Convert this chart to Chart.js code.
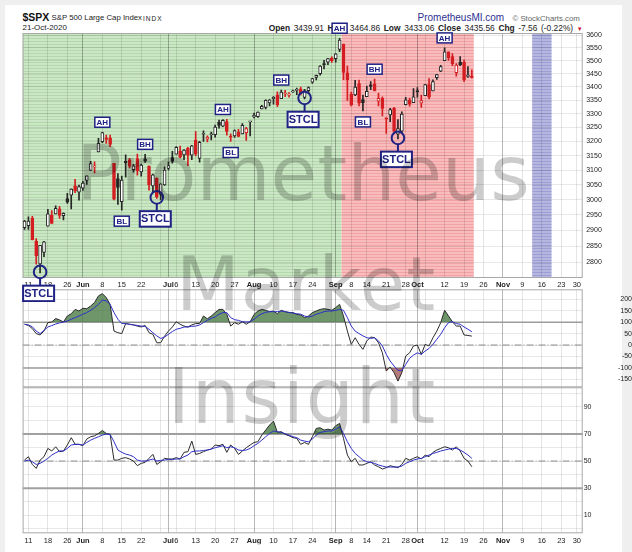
<!DOCTYPE html>
<html>
<head>
<meta charset="utf-8">
<script src="https://cdn.jsdelivr.net/npm/chart.js@4/dist/chart.umd.min.js"></script>
<style>
  html, body { margin: 0; padding: 0; }
  body { width: 632px; height: 552px; background: #efefef; position: relative; overflow: hidden;
         font-family: "Liberation Sans", Arial, Helvetica, sans-serif; }
  #card { position: absolute; left: 5px; top: 5px; width: 617px; height: 547px; background: #fff; }
  canvas { position: absolute; left: 0; }
  #price { top: 20px; z-index: 3; }
  #cci { top: 287px; z-index: 2; }
  #rsi { top: 386px; z-index: 1; }
  .t { position: absolute; white-space: nowrap; line-height: 1; z-index: 2; }
  .wm { position: absolute; white-space: nowrap; line-height: 1; color: rgba(0,0,0,0.2);
        font-family: "DejaVu Sans", Verdana, sans-serif; z-index: 10; pointer-events: none; }
</style>
</head>
<body>
<div id="card"></div>

<div class="t" style="left:22.5px;top:12.1px;font-size:10.5px;font-weight:bold;color:#111">$SPX</div>
<div class="t" style="left:51.5px;top:14.4px;font-size:7.8px;color:#222">S&amp;P 500 Large Cap Index</div>
<div class="t" style="left:143px;top:15.5px;font-size:6.5px;letter-spacing:1px;color:#222">INDX</div>
<div class="t" style="left:22.5px;top:24.2px;font-size:8px;color:#222">21-Oct-2020</div>
<div class="t" style="right:49.3px;top:23.9px;font-size:8.4px;word-spacing:1.3px;color:#222"><b>Open</b> 3439.91 <b>High</b> 3464.86 <b>Low</b> 3433.06 <b>Close</b> 3435.56 <b>Chg</b> -7.56 (-0.22%) <span style="color:#c8102e;font-size:6px">&#9660;</span></div>
<div class="t" style="left:417.5px;top:13.2px;font-size:10px;color:#2e3192">PrometheusMI.com</div>
<div class="t" style="left:512.5px;top:14.9px;font-size:7.8px;color:#666">&copy; StockCharts.com</div>

<canvas id="price" width="632" height="282"></canvas>
<canvas id="cci" width="632" height="102"></canvas>
<canvas id="rsi" width="632" height="166"></canvas>

<div class="wm" style="left:76px;top:135.7px;font-size:76px">Prometheus</div>
<div class="wm" style="left:176px;top:247.4px;font-size:74px;letter-spacing:1px">Market</div>
<div class="wm" style="left:167.6px;top:358.7px;font-size:76px;letter-spacing:1.7px">Insight</div>

<script>
// trading days shown on the axis (May 8 .. Dec 1, 2020)
const days = [
  "May 8","May 11","May 12","May 13","May 14","May 15","May 18","May 19","May 20","May 21","May 22","May 26","May 27","May 28","May 29",
  "Jun 1","Jun 2","Jun 3","Jun 4","Jun 5","Jun 8","Jun 9","Jun 10","Jun 11","Jun 12","Jun 15","Jun 16","Jun 17","Jun 18","Jun 19",
  "Jun 22","Jun 23","Jun 24","Jun 25","Jun 26","Jun 29","Jun 30",
  "Jul 1","Jul 2","Jul 6","Jul 7","Jul 8","Jul 9","Jul 10","Jul 13","Jul 14","Jul 15","Jul 16","Jul 17","Jul 20","Jul 21","Jul 22",
  "Jul 23","Jul 24","Jul 27","Jul 28","Jul 29","Jul 30","Jul 31",
  "Aug 3","Aug 4","Aug 5","Aug 6","Aug 7","Aug 10","Aug 11","Aug 12","Aug 13","Aug 14","Aug 17","Aug 18","Aug 19","Aug 20","Aug 21",
  "Aug 24","Aug 25","Aug 26","Aug 27","Aug 28","Aug 31",
  "Sep 1","Sep 2","Sep 3","Sep 4","Sep 8","Sep 9","Sep 10","Sep 11","Sep 14","Sep 15","Sep 16","Sep 17","Sep 18","Sep 21","Sep 22",
  "Sep 23","Sep 24","Sep 25","Sep 28","Sep 29","Sep 30",
  "Oct 1","Oct 2","Oct 5","Oct 6","Oct 7","Oct 8","Oct 9","Oct 12","Oct 13","Oct 14","Oct 15","Oct 16","Oct 19","Oct 20","Oct 21",
  "Oct 22","Oct 23","Oct 26","Oct 27","Oct 28","Oct 29","Oct 30",
  "Nov 2","Nov 3","Nov 4","Nov 5","Nov 6","Nov 9","Nov 10","Nov 11","Nov 12","Nov 13","Nov 16","Nov 17","Nov 18","Nov 19","Nov 20",
  "Nov 23","Nov 24","Nov 25","Nov 27","Nov 30","Dec 1"
]

const open = [
  2908.8, 2915.5, 2939.5, 2865.9, 2794.5, 2830.0, 2913.9, 2948.6, 2953.6, 2970.0,
  2948.1, 3004.1, 3015.7, 3046.6, 3025.2, 3038.8, 3064.8, 3098.9, 3111.6, 3163.8,
  3199.9, 3213.3, 3213.4, 3123.5, 3071.0, 2993.8, 3131.0, 3136.1, 3101.6, 3140.3,
  3094.4, 3138.7, 3114.4, 3046.6, 3073.2, 3018.6, 3050.2, 3105.9, 3143.6, 3155.3,
  3166.4, 3153.1, 3176.2, 3152.5, 3205.1, 3141.1, 3226.0, 3208.4, 3224.2, 3224.3,
  3268.5, 3254.9, 3271.6, 3218.6, 3219.8, 3234.3, 3227.2, 3231.8, 3270.5, 3288.3,
  3289.9, 3317.4, 3323.2, 3340.1, 3356.0, 3370.3, 3355.5, 3373.0, 3368.7, 3380.9,
  3387.0, 3392.5, 3360.5, 3386.0, 3418.1, 3436.0, 3450.0, 3485.1, 3494.7, 3509.7,
  3507.4, 3543.8, 3564.7, 3453.6, 3371.9, 3369.8, 3412.6, 3352.7, 3363.6, 3407.7,
  3411.2, 3346.9, 3357.4, 3285.6, 3295.8, 3320.1, 3226.1, 3236.7, 3333.9, 3350.9,
  3341.2, 3385.9, 3338.9, 3367.3, 3408.7, 3384.6, 3434.3, 3459.7, 3500.0, 3534.0,
  3515.5, 3453.7, 3493.5, 3493.7, 3439.4, 3439.9
]
const high = [
  2932.2, 2944.3, 2945.8, 2874.1, 2852.8, 2865.0, 2968.1, 2964.2, 2980.3, 2978.5,
  2956.8, 3021.7, 3036.3, 3068.7, 3049.2, 3062.2, 3081.1, 3130.9, 3128.9, 3211.7,
  3233.1, 3222.7, 3223.3, 3123.5, 3088.4, 3079.8, 3153.5, 3141.2, 3120.0, 3155.5,
  3120.9, 3154.9, 3115.0, 3086.3, 3073.7, 3053.9, 3111.5, 3128.4, 3165.8, 3182.6,
  3184.2, 3171.8, 3179.8, 3186.8, 3235.3, 3201.0, 3238.3, 3220.4, 3233.5, 3258.6,
  3277.3, 3279.3, 3280.0, 3227.3, 3241.4, 3243.7, 3264.7, 3250.9, 3272.2, 3302.7,
  3306.8, 3330.8, 3351.0, 3352.5, 3363.3, 3381.0, 3387.9, 3387.2, 3378.5, 3387.6,
  3395.1, 3399.5, 3390.8, 3400.0, 3432.1, 3444.2, 3481.1, 3501.4, 3509.2, 3514.8,
  3528.0, 3588.1, 3564.9, 3479.2, 3380.0, 3424.8, 3425.6, 3369.0, 3402.9, 3419.5,
  3428.9, 3375.2, 3362.3, 3285.6, 3320.3, 3323.4, 3278.7, 3306.9, 3360.7, 3357.9,
  3393.6, 3397.2, 3369.1, 3409.6, 3431.6, 3426.3, 3447.3, 3482.3, 3549.9, 3534.0,
  3527.9, 3489.1, 3515.8, 3502.4, 3476.9, 3464.9
]
const low = [
  2902.9, 2903.4, 2869.6, 2793.2, 2766.6, 2816.8, 2913.9, 2922.4, 2953.6, 2938.6,
  2933.6, 2988.2, 2969.8, 3023.4, 2998.6, 3031.5, 3051.6, 3098.9, 3090.4, 3163.8,
  3196.0, 3193.1, 3181.5, 2999.5, 2984.5, 2965.7, 3076.1, 3108.0, 3093.5, 3083.1,
  3079.4, 3127.1, 3032.1, 3024.0, 3004.6, 2999.7, 3047.8, 3101.2, 3124.5, 3155.3,
  3142.9, 3136.5, 3115.7, 3136.2, 3149.4, 3127.7, 3200.8, 3198.6, 3205.7, 3215.2,
  3247.8, 3253.1, 3222.7, 3200.1, 3214.3, 3216.2, 3227.2, 3204.1, 3220.3, 3284.5,
  3286.4, 3317.4, 3318.1, 3328.7, 3335.4, 3326.4, 3355.5, 3363.4, 3361.6, 3379.2,
  3370.2, 3369.7, 3354.7, 3379.3, 3413.1, 3425.8, 3444.2, 3468.4, 3484.3, 3493.3,
  3494.6, 3535.2, 3427.4, 3349.6, 3329.3, 3366.8, 3329.3, 3310.5, 3363.6, 3389.3,
  3384.5, 3328.8, 3292.4, 3229.1, 3271.0, 3232.6, 3209.5, 3228.4, 3332.9, 3327.5,
  3340.5, 3361.4, 3323.7, 3367.3, 3354.5, 3384.6, 3428.2, 3458.1, 3499.6, 3500.9,
  3480.6, 3440.9, 3480.5, 3419.9, 3435.7, 3433.1
]
const close = [
  2929.8, 2930.3, 2870.1, 2820.0, 2852.5, 2863.7, 2953.9, 2922.9, 2971.6, 2948.5,
  2955.5, 2991.8, 3036.1, 3029.7, 3044.3, 3055.7, 3080.8, 3122.9, 3112.4, 3193.9,
  3232.4, 3207.2, 3190.1, 3002.1, 3041.3, 3066.6, 3124.7, 3113.5, 3115.3, 3097.7,
  3117.9, 3131.3, 3050.3, 3083.8, 3009.1, 3053.2, 3100.3, 3115.9, 3130.0, 3179.7,
  3145.3, 3169.9, 3152.1, 3185.0, 3155.2, 3197.5, 3226.6, 3215.6, 3224.7, 3251.8,
  3257.3, 3276.0, 3235.7, 3215.6, 3239.4, 3218.4, 3258.4, 3246.2, 3271.1, 3294.6,
  3306.5, 3327.8, 3349.2, 3351.3, 3360.5, 3333.7, 3380.4, 3373.4, 3372.9, 3382.0,
  3389.8, 3374.9, 3385.5, 3397.2, 3431.3, 3443.6, 3478.7, 3484.6, 3508.0, 3500.3,
  3526.7, 3580.8, 3455.1, 3427.0, 3331.8, 3399.0, 3339.2, 3341.0, 3383.5, 3401.2,
  3385.5, 3357.0, 3319.5, 3281.1, 3315.6, 3236.9, 3246.6, 3298.5, 3351.6, 3335.5,
  3363.0, 3380.8, 3348.4, 3408.6, 3361.0, 3419.4, 3446.8, 3477.1, 3534.2, 3511.9,
  3488.7, 3483.3, 3483.8, 3426.9, 3443.1, 3435.6
]

// CCI and its signal line
const cci = [
  91, 86, 72, 50, 44, 61, 98, 101, 116, 110,
  101, 127, 137, 156, 149, 161, 159, 171, 186, 215,
  225, 208, 178, 61, 54, 50, 94, 91, 88, 83,
  79, 86, 54, 47, 10, 10, 39, 61, 79, 102,
  91, 83, 79, 88, 94, 94, 127, 115, 127, 142,
  156, 156, 134, 83, 98, 91, 102, 91, 102, 134,
  149, 156, 152, 146, 149, 137, 152, 146, 142, 142,
  134, 132, 120, 127, 142, 149, 156, 159, 156, 152,
  164, 178, 127, 61, 3, 32, 3, -19, 18, 35,
  32, 10, -34, -114, -96, -121, -158, -121, -48, -34,
  -4, 0, -41, 3, -4, 32, 61, 98, 152, 127,
  102, 83, 83, 44, 42, 39
]
const cciSignal = [
  91, 88, 80, 61, 50, 64, 79, 85, 92, 97,
  101, 105, 113, 120, 127, 135, 142, 152, 164, 178,
  197, 193, 178, 142, 113, 94, 94, 91, 88, 86,
  83, 82, 69, 54, 40, 29, 35, 47, 59, 69,
  73, 79, 79, 82, 83, 88, 98, 108, 117, 123,
  135, 142, 142, 120, 111, 108, 102, 101, 102, 113,
  127, 137, 143, 146, 146, 146, 149, 146, 143, 140,
  137, 135, 127, 123, 127, 135, 140, 146, 149, 149,
  152, 156, 152, 120, 83, 61, 50, 40, 32, 29,
  32, 18, -4, -41, -70, -92, -111, -111, -85, -58,
  -44, -34, -41, -26, -15, 3, 25, 47, 76, 98,
  102, 94, 91, 79, 69, 58
]

// RSI and its signal line
const rsi = [
  50.7, 53.2, 47.5, 44.6, 50.7, 53.2, 59.3, 57.4, 60.5, 56.9,
  57.4, 61.8, 67.2, 62.3, 62.3, 61.3, 66.2, 67.9, 68.6, 70.3,
  72.5, 70.3, 69.6, 50.7, 50.7, 52, 52.5, 51.5, 50, 46.6,
  48.3, 49, 52, 54.9, 47.5, 49.5, 52, 51.5, 51.5, 52.5,
  51.5, 56.4, 56.9, 64.7, 54.9, 55.6, 56.9, 58.1, 58.8, 61.8,
  61.3, 62.3, 56.4, 61.8, 59.3, 54.9, 57.4, 59.8, 61.8, 63.7,
  64.2, 69.1, 72.8, 76.5, 79.4, 71.1, 71.6, 69.6, 68.6, 67.2,
  66.7, 62.3, 63.7, 62.3, 67.9, 74, 74.5, 72.8, 73.5, 72.8,
  76, 77.7, 66.7, 54.4, 49.5, 52, 47.1, 47.1, 48.3, 49.5,
  47.1, 45.8, 44.1, 45.1, 46.6, 45.8, 45.1, 47.5, 52, 50.7,
  52, 53.2, 51.5, 54.4, 53.2, 56.4, 58.1, 59.3, 60.5, 59.8,
  58.1, 60.5, 57.4, 52, 50, 45.8
]
const rsiSignal = [
  50, 50.7, 49.5, 47.5, 48.3, 50, 52, 54.4, 56.1, 57.4,
  57.4, 59.3, 61.8, 62.3, 62.3, 61.8, 63.7, 65.4, 66.7, 67.9,
  69.1, 69.9, 69.6, 64.2, 58.1, 56.4, 55.1, 54.4, 53.2, 50.7,
  50, 50, 50.7, 51.5, 50, 50.5, 50.7, 51.2, 51.2, 51.5,
  51.5, 53.2, 54.4, 56.9, 57.4, 57.4, 57.8, 58.1, 58.8, 59.8,
  60.5, 61.3, 59.8, 60.5, 59.8, 58.1, 57.8, 58.1, 59.3, 61.3,
  63, 65.4, 67.9, 70.3, 72.1, 71.6, 71.1, 70.1, 69.1, 67.9,
  67.2, 65.4, 64.7, 64.2, 66.2, 69.1, 71.1, 71.6, 72.1, 72.1,
  73.5, 75.2, 70.3, 64.2, 59.3, 55.6, 53.2, 50.7, 49.5, 49,
  48.3, 47.1, 46.3, 45.6, 45.6, 45.6, 45.6, 46.3, 48.3, 49.5,
  50.7, 51.5, 52, 53.2, 54.4, 55.6, 56.4, 57.4, 58.1, 58.8,
  59.3, 59.3, 58.1, 56.4, 54.4, 52
]

const priceTicks = [2800, 2850, 2900, 2950, 3000, 3050, 3100, 3150, 3200, 3250, 3300, 3350, 3400, 3450, 3500, 3550, 3600]
const cciTicks = [-150, -100, -50, 0, 50, 100, 150, 200]
const rsiTicks = [0, 10, 20, 30, 40, 50, 60, 70, 80, 90, 100]
const rsiTickLabels = [10, 30, 50, 70, 90]
const cciBands = [100, -100]
const cciMid = 0
const rsiBands = [70, 30]
const rsiMid = 50

// date axis: week lines, month lines, labels (indexes into days)
const weekDays = [1, 6, 11, 15, 20, 25, 30, 35, 39, 44, 49, 54, 59, 64, 69, 74, 79, 84, 88, 93, 98, 103, 108, 113, 118, 123, 128, 133, 138, 142]
const monthDays = [15, 37, 59, 80, 101, 123]
const labelDays = [1, 6, 11, 15, 20, 25, 30, 37, 39, 44, 49, 54, 59, 64, 69, 74, 80, 84, 88, 93, 98, 101, 108, 113, 118, 123, 128, 133, 138, 142]
const labelText = ["11", "18", "26", "Jun", "8", "15", "22", "Jul", "6", "13", "20", "27", "Aug", "10", "17", "24",
                   "Sep", "8", "14", "21", "28", "Oct", "12", "19", "26", "Nov", "9", "16", "23", "30"]

// shaded periods (first and last day index)
const greenZone = [0, 81]
const redZone = [82, 115]
const blueZone = [131, 135]

// chart notes
const markDays = [4, 20, 25, 31, 34, 51, 53, 66, 72, 81, 87, 90, 96, 108]
const markText = ["STCL", "AH", "BL", "BH", "STCL", "AH", "BL", "BH", "STCL", "AH", "BL", "BH", "STCL", "AH"]

const FONT = '"Liberation Sans", Arial, Helvetica, sans-serif'
const NAVY = "#1f2283"
const RED = "#d41e22"
const BLACK = "#262626"
const BLUE = "#2e2ec8"
const GREEN_FILL = "rgba(70,120,65,0.78)"
const RED_FILL = "rgba(150,70,70,0.72)"

Chart.defaults.font.family = FONT
Chart.defaults.animation = false
Chart.defaults.plugins.legend.display = false
Chart.defaults.plugins.tooltip.enabled = false

const tickText = days.map(function () { return "" })
labelDays.forEach(function (d, k) { tickText[d] = labelText[k] })

function gridColor(i) {
  if (monthDays.includes(i)) return "rgba(0,0,0,0.28)"
  if (weekDays.includes(i)) return "rgba(0,0,0,0.1)"
  return "rgba(0,0,0,0)"
}

function xAxis(height, showLabels, pad) {
  return {
    type: "category",
    offset: true,
    grid: { offset: false, drawTicks: false, color: function (c) { return gridColor(c.index) } },
    border: { display: false },
    ticks: {
      display: showLabels, autoSkip: false, maxRotation: 0, minRotation: 0, padding: pad, color: "#222",
      font: function (c) {
        const bold = /[A-Z]/.test(tickText[c.index] || "")
        return { family: FONT, size: 7.5, weight: bold ? "bold" : "normal" }
      },
      callback: function (v, i) { return tickText[i] }
    },
    afterFit: function (s) { s.height = height; s.paddingLeft = 0; s.paddingRight = 0 }
  }
}

function yAxis(extra) {
  return Object.assign({
    position: "right",
    grid: { color: "rgba(0,0,0,0.09)", drawTicks: false },
    border: { display: false },
    afterFit: function (s) { s.width = 49.3; s.paddingTop = 0; s.paddingBottom = 0 }
  }, extra)
}

function stripes(ctx, base, line) {
  const c = document.createElement("canvas")
  c.width = 4
  c.height = 3
  const g = c.getContext("2d")
  g.fillStyle = base
  g.fillRect(0, 0, 4, 3)
  g.fillStyle = line
  g.fillRect(0, 0, 4, 1)
  return ctx.createPattern(c, "repeat")
}

function zonePlugin(zones) {
  return {
    id: "zones",
    beforeDraw: function (chart) {
      const ctx = chart.ctx
      const a = chart.chartArea
      const x = chart.scales.x
      const half = (x.getPixelForValue(1) - x.getPixelForValue(0)) / 2
      ctx.save()
      zones.forEach(function (z) {
        const x0 = Math.max(a.left, x.getPixelForValue(z.range[0]) - half)
        const x1 = Math.min(a.right, x.getPixelForValue(z.range[1]) + half)
        ctx.fillStyle = stripes(ctx, z.base, z.line)
        ctx.fillRect(x0, a.top, x1 - x0, a.bottom - a.top)
      })
      ctx.restore()
    }
  }
}

function framePlugin(levels) {
  return {
    id: "frame",
    beforeDatasetsDraw: function (chart) {
      const ctx = chart.ctx
      const a = chart.chartArea
      const y = chart.scales.y
      ctx.save()
      levels.forEach(function (l) {
        const py = y.getPixelForValue(l.value)
        ctx.beginPath()
        ctx.strokeStyle = l.color
        ctx.lineWidth = l.width
        ctx.setLineDash(l.dash || [])
        ctx.moveTo(a.left, py)
        ctx.lineTo(a.right, py)
        ctx.stroke()
      })
      ctx.setLineDash([])
      ctx.strokeStyle = "#a8a8a8"
      ctx.lineWidth = 1
      ctx.strokeRect(a.left + 0.5, a.top + 0.5, a.right - a.left - 1, a.bottom - a.top - 1)
      ctx.restore()
    }
  }
}

function tag(ctx, cx, cy, w, h, text, size, lw) {
  ctx.fillStyle = "#fff"
  ctx.fillRect(cx - w / 2, cy - h / 2, w, h)
  ctx.lineWidth = lw
  ctx.strokeStyle = NAVY
  ctx.strokeRect(cx - w / 2, cy - h / 2, w, h)
  ctx.fillStyle = NAVY
  ctx.font = "bold " + size + "px " + FONT
  ctx.textAlign = "center"
  ctx.textBaseline = "middle"
  ctx.fillText(text, cx, cy + 0.5)
}

const marksPlugin = {
  id: "marks",
  afterDatasetsDraw: function (chart) {
    const ctx = chart.ctx
    const x = chart.scales.x
    const y = chart.scales.y
    ctx.save()
    markDays.forEach(function (d, k) {
      const t = markText[k]
      const px = x.getPixelForValue(d)
      if (t === "STCL") {
        const cy = y.getPixelForValue(low[d]) - 1
        const by = cy + 21.5
        ctx.strokeStyle = NAVY
        ctx.lineWidth = 2
        ctx.beginPath()
        ctx.arc(px, cy, 6.3, 0, Math.PI * 2)
        ctx.stroke()
        ctx.beginPath()
        ctx.moveTo(px, cy + 6.3)
        ctx.lineTo(px, by - 8)
        ctx.stroke()
        tag(ctx, px - 1.5, by, 31, 15.5, t, 11, 2)
      } else if (t === "BL") {
        tag(ctx, px, y.getPixelForValue(low[d]) + 11, 15, 10, t, 8, 1.5)
      } else {
        tag(ctx, px, y.getPixelForValue(high[d]) - 10, 15, 10, t, 8, 1.5)
      }
    })
    ctx.restore()
  }
}

// candle colours: red when the close is below the previous close, hollow when close >= open
const candleColor = close.map(function (c, i) { return i > 0 && c < close[i - 1] ? RED : BLACK })
const bodyFill = close.map(function (c, i) { return c >= open[i] ? "#ffffff" : candleColor[i] })
const wicks = low.map(function (l, i) { return [l, high[i]] })
const bodies = open.map(function (o, i) { return [Math.min(o, close[i]), Math.max(o, close[i])] })

new Chart(document.getElementById("price"), {
  type: "bar",
  data: {
    labels: days,
    datasets: [
      { data: wicks, backgroundColor: candleColor, borderWidth: 0, barThickness: 1, grouped: false, order: 2 },
      { data: bodies, backgroundColor: bodyFill, borderColor: candleColor, borderWidth: 1, borderSkipped: false,
        barThickness: 3, minBarLength: 1, grouped: false, order: 1 }
    ]
  },
  options: {
    responsive: false,
    layout: { padding: { left: 22.6, right: 0, top: 13, bottom: 13 } },
    scales: {
      x: xAxis(11, true, 2),
      y: yAxis({
        type: "logarithmic", min: 2751, max: 3609,
        afterBuildTicks: function (s) { s.ticks = priceTicks.map(function (v) { return { value: v } }) },
        ticks: { padding: 3.5, color: "#222", font: { size: 7 }, callback: function (v) { return String(v) } }
      })
    }
  },
  plugins: [
    zonePlugin([
      { range: greenZone, base: "#cbe7c5", line: "#b3d8ab" },
      { range: redZone, base: "#f8bcbc", line: "#f2a2a2" },
      { range: blueZone, base: "#b6b7e0", line: "#9c9ed4" }
    ]),
    framePlugin([]),
    marksPlugin
  ]
})

new Chart(document.getElementById("cci"), {
  type: "line",
  data: {
    labels: days,
    datasets: [
      { data: cci, borderColor: "#2b2b2b", borderWidth: 1, pointRadius: 0, tension: 0,
        fill: { target: { value: 100 }, above: GREEN_FILL, below: "rgba(0,0,0,0)" }, order: 2 },
      { data: cci, borderColor: "rgba(0,0,0,0)", borderWidth: 0, pointRadius: 0, tension: 0,
        fill: { target: { value: -100 }, above: "rgba(0,0,0,0)", below: RED_FILL }, order: 3 },
      { data: cciSignal, borderColor: BLUE, borderWidth: 1, pointRadius: 0, tension: 0, fill: false, order: 1 }
    ]
  },
  options: {
    responsive: false,
    layout: { padding: { left: 22.6, right: 0, top: 2.3, bottom: 1.7 } },
    scales: {
      x: xAxis(0, false, 0),
      y: yAxis({
        min: -185, max: 244,
        afterBuildTicks: function (s) { s.ticks = cciTicks.map(function (v) { return { value: v } }) },
        ticks: { crossAlign: "far", padding: 2.3, color: "#222", font: { size: 7 }, callback: function (v) { return String(v) } }
      })
    }
  },
  plugins: [framePlugin(cciBands.map(function (v) { return { value: v, color: "#9c9c9c", width: 1.5 } })
    .concat([{ value: cciMid, color: "#8a8a8a", width: 1, dash: [7, 2, 1, 2] }]))]
})

new Chart(document.getElementById("rsi"), {
  type: "line",
  data: {
    labels: days,
    datasets: [
      { data: rsi, borderColor: "#2b2b2b", borderWidth: 1, pointRadius: 0, tension: 0,
        fill: { target: { value: 70 }, above: GREEN_FILL, below: "rgba(0,0,0,0)" }, order: 2 },
      { data: rsiSignal, borderColor: BLUE, borderWidth: 1, pointRadius: 0, tension: 0, fill: false, order: 1 }
    ]
  },
  options: {
    responsive: false,
    layout: { padding: { left: 22.6, right: 0, top: 1.3, bottom: 7.7 } },
    scales: {
      x: xAxis(11, true, 3),
      y: yAxis({
        min: -3.2, max: 104.3,
        afterBuildTicks: function (s) { s.ticks = rsiTicks.map(function (v) { return { value: v } }) },
        ticks: { padding: 1, color: "#222", font: { size: 7 },
                 callback: function (v) { return rsiTickLabels.includes(v) ? String(v) : "" } }
      })
    }
  },
  plugins: [framePlugin(rsiBands.map(function (v) { return { value: v, color: "#a0a0a0", width: 2 } })
    .concat([{ value: rsiMid, color: "#8a8a8a", width: 1, dash: [7, 2, 1, 2] }]))]
})
</script>
</body>
</html>
